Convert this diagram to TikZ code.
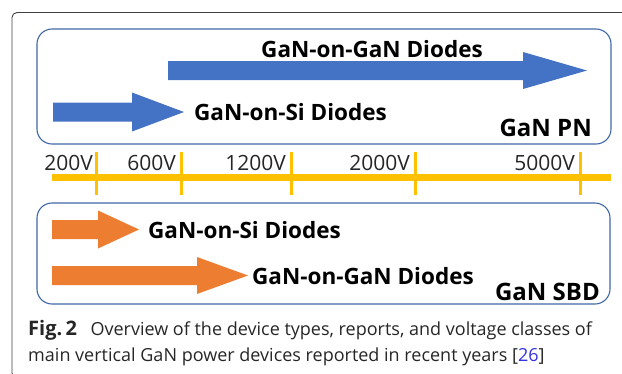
\documentclass[tikz,border=0pt]{standalone}
\usepackage{fontspec}
\setmainfont{Open Sans}
\usepackage{xcolor}
\usepackage{tikz}
\usetikzlibrary{positioning}

\definecolor{pnblue}{HTML}{4472C4}
\definecolor{sbdorange}{HTML}{ED7D31}
\definecolor{axisyellow}{HTML}{FFC000}
\definecolor{boxblue}{HTML}{3F67A6}
\definecolor{citeblue}{HTML}{3333E0}

\begin{document}
\begin{tikzpicture}[x=1pt, y=-1pt]
		\tikzstyle{frame} = [draw=black!75, line width=0.9pt, rounded corners=5pt]
		\tikzstyle{group} = [draw=boxblue, line width=1.1pt, rounded corners=15pt]
		\tikzstyle{label} = [inner sep=0pt, font=\fontsize{22.5}{26}\selectfont\bfseries]
		\tikzstyle{tag} = [inner sep=0pt, font=\fontsize{24}{28}\selectfont\bfseries]
		\tikzstyle{volt} = [inner sep=0pt, font=\fontsize{21}{24}\selectfont, text=black!85]
		\tikzstyle{axis} = [draw=axisyellow, line width=7pt]
		\tikzstyle{tick} = [draw=axisyellow, line width=3pt]
		\tikzstyle{capline} = [anchor=base west, inner sep=0pt, text=black!85, font=\fontsize{18}{26}\selectfont]
		
		\useasboundingbox (0,0) rectangle (622,373);
		
		% outer frame and the two groups
		\draw[frame] (630,12.5) -- (12,12.5) -- (12,378) -- (30,378);
		\draw[group] (37,29) rectangle (611,144);
		\draw[group] (37,203) rectangle (610,304);
		
		% GaN PN arrows
		\fill[pnblue] (168,61) -- (523,61) -- (523,52) -- (587,70.5) -- (523,89) -- (523,80) -- (168,80) -- cycle;
		\fill[pnblue] (53,102.5) -- (132,102.5) -- (132,92.5) -- (184,112) -- (132,131.5) -- (132,121.5) -- (53,121.5) -- cycle;
		\coordinate (pnshorttip) at (184,112);
		
		\node[label]	at (372, 49)				(pnlong)	{GaN-on-GaN Diodes};
		\node[label, right=10pt of pnshorttip]	(pnshort)	{GaN-on-Si Diodes};
		\node[tag, anchor=east]	at (592, 128)	(pntag)		{GaN PN};
		
		% voltage axis
		\coordinate (t200) at (96,163);
		\coordinate (t600) at (181,163);
		\coordinate (t1200) at (291,163);
		\coordinate (t2000) at (415,163);
		\coordinate (t5000) at (580,163);
		\draw[axis] (52,177) -- (611,177);
		\draw[tick] (96,152) -- (96,195);
		\draw[tick] (181,152) -- (181,195);
		\draw[tick] (291,152) -- (291,195);
		\draw[tick] (415,152) -- (415,195);
		\draw[tick] (580,152) -- (580,195);
		\node[volt, left=3pt of t200]		(v200)	{200V};
		\node[volt, left=5pt of t600]		(v600)	{600V};
		\node[volt, left=5pt of t1200]	(v1200)	{1200V};
		\node[volt, left=5pt of t2000]	(v2000)	{2000V};
		\node[volt, left=5pt of t5000]	(v5000)	{5000V};
		
		% GaN SBD arrows
		\fill[sbdorange] (52,220) -- (98,220) -- (98,210.5) -- (139,229.5) -- (98,248.5) -- (98,239) -- (52,239) -- cycle;
		\fill[sbdorange] (52,266) -- (197,266) -- (197,257) -- (248,275.5) -- (197,294) -- (197,285) -- (52,285) -- cycle;
		\coordinate (sbdshorttip) at (139,230);
		\coordinate (sbdlongtip) at (248,276);
		
		\node[label, right=9pt of sbdshorttip]	(sbdshort)	{GaN-on-Si Diodes};
		\node[label, right=4pt of sbdlongtip]	(sbdlong)	{GaN-on-GaN Diodes};
		\node[tag, anchor=east]	at (600, 292)	(sbdtag)	{GaN SBD};
		
		% caption, one node per line
		\node[capline] at (28, 335) (caption1)
			{\textbf{\fontsize{20}{26}\selectfont Fig.\,2}\hspace{0.75em}Overview of the device types, reports, and voltage classes of};
		\node[capline] at (28, 361) (caption2)
			{main vertical GaN power devices reported in recent years [\textcolor{citeblue}{26}]};
	\end{tikzpicture}
\end{document}
